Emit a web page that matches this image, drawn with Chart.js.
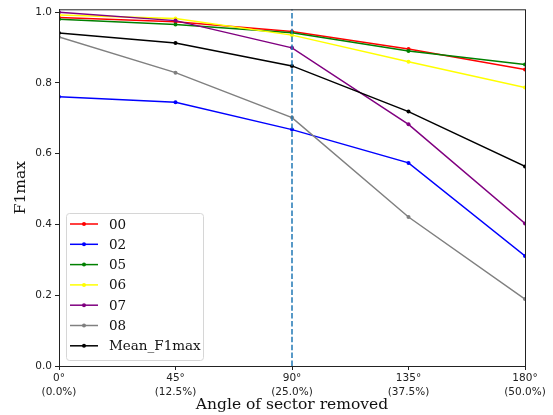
<!DOCTYPE html>
<html>
<head>
<meta charset="utf-8">
<script src="https://cdn.jsdelivr.net/npm/chart.js@4.4.1/dist/chart.umd.min.js"></script>
<style>
  html, body { margin: 0; padding: 0; background: #fff; }
  #wrap { width: 553px; height: 415px; }
</style>
</head>
<body>
<div id="wrap"><canvas id="chart" width="553" height="415"></canvas></div>
<script>
// data
const angles = [0, 45, 90, 135, 180];
const yTicks = [0, 0.2, 0.4, 0.6, 0.8, 1.0];
const seriesNames = ["00", "02", "05", "06", "07", "08", "Mean_F1max"];
const seriesColors = ["red", "blue", "green", "yellow", "purple", "gray", "black"];
const f1_00 = [0.985, 0.973, 0.945, 0.896, 0.838];
const f1_02 = [0.761, 0.745, 0.668, 0.574, 0.311];
const f1_05 = [0.980, 0.965, 0.942, 0.890, 0.852];
const f1_06 = [0.992, 0.982, 0.935, 0.860, 0.787];
const f1_07 = [1.000, 0.976, 0.899, 0.683, 0.403];
const f1_08 = [0.930, 0.829, 0.702, 0.421, 0.189];
const f1_mean = [0.941, 0.913, 0.848, 0.719, 0.564];
const markerAngle = 90;
const yMax = 1.008;

const allSeries = [f1_00, f1_02, f1_05, f1_06, f1_07, f1_08, f1_mean];

const datasets = allSeries.map((vals, i) => ({
  label: seriesNames[i],
  data: vals.map((v, j) => ({ x: angles[j], y: v })),
  borderColor: seriesColors[i],
  backgroundColor: seriesColors[i],
  borderWidth: 1.5,
  pointRadius: 2,
  pointBorderWidth: 0,
  tension: 0,
  order: allSeries.length - i + 1,
}));

// dashed vertical line at 90 degrees
datasets.push({
  label: "_vline",
  data: [{ x: markerAngle, y: 0 }, { x: markerAngle, y: yMax }],
  borderColor: "#1f77b4",
  borderWidth: 1.5,
  borderDash: [5.5, 2.4],
  pointRadius: 0,
  order: 0,
});

// frame on top and right, plus legend inside the plot
const framePlugin = {
  id: "frame",
  afterDraw(chart) {
    const { ctx, chartArea: a } = chart;
    ctx.save();
    ctx.strokeStyle = "#222";
    ctx.lineWidth = 1;
    ctx.strokeRect(a.left + 0.5, a.top + 0.5, a.right - a.left, a.bottom - a.top);

    // legend
    const bx = a.left + 7, bw = 137, bh = 147;
    const by = a.bottom - 6 - bh;
    ctx.fillStyle = "rgba(255,255,255,0.8)";
    ctx.strokeStyle = "#d6d6d6";
    ctx.beginPath();
    ctx.roundRect(bx + 0.5, by + 0.5, bw, bh, 3);
    ctx.fill();
    ctx.stroke();
    ctx.font = "13.5px 'DejaVu Serif'";
    ctx.textBaseline = "middle";
    seriesNames.forEach((name, i) => {
      const y = by + 11 + i * 20.3;
      ctx.strokeStyle = seriesColors[i];
      ctx.lineWidth = 1.5;
      ctx.beginPath();
      ctx.moveTo(bx + 4, y);
      ctx.lineTo(bx + 32, y);
      ctx.stroke();
      ctx.fillStyle = seriesColors[i];
      ctx.beginPath();
      ctx.arc(bx + 18, y, 2, 0, Math.PI * 2);
      ctx.fill();
      ctx.fillStyle = "#111";
      ctx.fillText(name, bx + 43, y + 1);
    });
    ctx.restore();
  },
};

new Chart(document.getElementById("chart"), {
  type: "line",
  data: { datasets },
  options: {
    responsive: false,
    animation: false,
    devicePixelRatio: 1,
    layout: { padding: { top: 9, right: 28, left: 0, bottom: 0 } },
    plugins: { legend: { display: false }, tooltip: { enabled: false } },
    scales: {
      x: {
        type: "linear",
        min: 0,
        max: 180,
        afterBuildTicks: (s) => { s.ticks = angles.map((v) => ({ value: v })); },
        afterFit: (s) => { s.height = 49; },
        grid: { drawOnChartArea: false, drawTicks: true, tickLength: 4, tickColor: "#222" },
        border: { display: true, color: "#222" },
        ticks: {
          color: "#222",
          font: { family: "'DejaVu Sans'", size: 10.5, lineHeight: 1.35 },
          padding: 1,
          maxRotation: 0,
          callback: (v) => [v + "°", "(" + (v / 360 * 100).toFixed(1) + "%)"],
        },
        title: {
          display: true,
          text: "Angle of sector removed",
          color: "#111",
          font: { family: "'DejaVu Serif'", size: 15.5, lineHeight: 1.2 },
          padding: { top: 0, bottom: 1 },
        },
      },
      y: {
        type: "linear",
        min: 0,
        max: yMax,
        afterBuildTicks: (s) => { s.ticks = yTicks.map((v) => ({ value: v })); },
        afterFit: (s) => { s.width = 59; },
        grid: { drawOnChartArea: false, drawTicks: true, tickLength: 4, tickColor: "#222" },
        border: { display: true, color: "#222" },
        ticks: {
          color: "#222",
          font: { family: "'DejaVu Sans'", size: 10.5 },
          padding: 3,
          callback: (v) => v.toFixed(1),
        },
        title: {
          display: true,
          text: "F1max",
          color: "#111",
          font: { family: "'DejaVu Serif'", size: 15.5, lineHeight: 1.2 },
          padding: { top: 12, bottom: 0 },
        },
      },
    },
  },
  plugins: [framePlugin],
});
</script>
</body>
</html>
